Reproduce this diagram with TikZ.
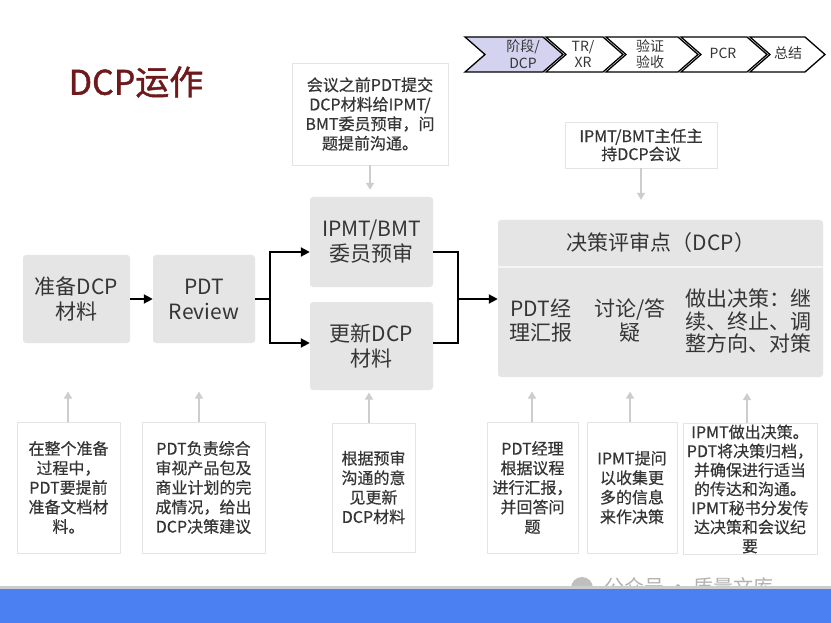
\documentclass[tikz,border=0pt]{standalone}
\usepackage{fontspec}
\setmainfont{Noto Sans CJK SC}
\newfontfamily\semibf{Noto Sans CJK SC}[FakeBold=0.5]
\newfontfamily\titlebf{Noto Sans CJK SC}[FakeBold=1.2]
\usetikzlibrary{arrows.meta,calc}
\definecolor{boxgray}{HTML}{E5E5E5}
\definecolor{txt}{HTML}{353535}
\definecolor{notebd}{HTML}{E4E4E4}
\definecolor{garr}{HTML}{CDCDCD}
\definecolor{titlered}{HTML}{6E1A1C}
\definecolor{chevfill}{HTML}{D3D3F0}
\definecolor{bandblue}{HTML}{4A80F2}
\begin{document}
\begin{tikzpicture}[x=1pt,y=-1pt,
  mainbox/.style={fill=boxgray, rounded corners=3pt, inner sep=0pt, align=center, text=txt, font=\fontsize{21}{25}\selectfont},
  innertext/.style={text=txt, inner sep=0pt, align=center, font=\fontsize{21}{23}\selectfont},
  notebox/.style={draw=notebd, fill=white, line width=0.8pt, inner sep=0pt, align=center, text=txt, font=\semibf\fontsize{16}{19.5}\selectfont},
  flow/.style={draw=black, line width=2pt, -{Triangle[length=9pt,width=9pt]}},
  garrow/.style={draw=garr, line width=1.5pt, -{Triangle[length=7pt,width=8pt]}},
  chevbox/.style={draw=black, line width=1.3pt, line join=miter},
  chevtext/.style={text=txt, align=center, font=\fontsize{14}{16.5}\selectfont, inner sep=0pt}
]
\useasboundingbox (0,0) rectangle (831,623);
\fill[white] (0,0) rectangle (831,623);

% title
\node[text=titlered, font=\titlebf\fontsize{34}{34}\selectfont, inner sep=0pt] (title) at (136,82) {DCP运作};

% chevrons
\def\ctop{37}\def\cbot{72}\def\cmid{54.5}\def\cd{20}
\foreach \L/\T/\f in {465/563/chevfill, 546/623/white, 606/698/white, 681/767/white, 750/825/white}{
  \filldraw[chevbox, fill=\f] (\L,\ctop) -- ({\T-\cd},\ctop) -- (\T,\cmid) -- ({\T-\cd},\cbot) -- (\L,\cbot) -- ({\L+\cd},\cmid) -- cycle;
}
\node[chevtext] (c1) at (523,54) {阶段/\\DCP};
\node[chevtext] (c2) at (583,54) {TR/\\XR};
\node[chevtext] (c3) at (650,54) {验证\\验收};
\node[chevtext] (c4) at (723,53) {PCR};
\node[chevtext] (c5) at (788,53) {总结};

% main flow boxes
\node[mainbox, minimum width=107pt, minimum height=88pt] (prep) at (76.5,299) {准备DCP\\材料};
\node[mainbox, minimum width=102pt, minimum height=88pt] (rev) at (204,299) {PDT\\Review};
\node[mainbox, minimum width=123pt, minimum height=90pt] (ipmt) at (371.5,242) {IPMT/BMT\\委员预审};
\node[mainbox, minimum width=123pt, minimum height=88pt] (upd) at (371.5,346) {更新DCP\\材料};
\node[mainbox, minimum width=325pt, minimum height=157pt] (dcp) at (660.5,298.5) {};
\draw[white!60!boxgray, line width=1.5pt] ([yshift=-47pt]dcp.north west) -- ([yshift=-47pt]dcp.north east);
\node[innertext] (dt) at (661,243) {决策评审点（DCP）};
\node[innertext, font=\fontsize{21}{24}\selectfont] (d1) at (541,321) {PDT经\\理汇报};
\node[innertext, font=\fontsize{21}{24}\selectfont] (d2) at (630,321) {讨论/答\\疑};
\node[innertext, font=\fontsize{21}{22.5}\selectfont] (d3) at (748,321) {做出决策：继\\续、终止、调\\整方向、对策};

% flow connectors
\coordinate (j1) at (270,299);
\coordinate (j2) at (458,299);
\draw[flow] (prep) -- (rev);
\draw[line width=2pt] (rev.east) -- (j1);
\draw[flow] (j1) |- ([yshift=-10pt]ipmt.west);
\draw[flow] (j1) |- ([yshift=3pt]upd.west);
\draw[line width=2pt] ([yshift=-10pt]ipmt.east) -| (j2);
\draw[line width=2pt] ([yshift=3pt]upd.east) -| (j2);
\draw[flow] (j2) -- (dcp.west |- j2);

% top notes
\node[notebox, minimum width=156pt, minimum height=102pt] (n1) at (370,114) {会议之前PDT提交\\DCP材料给IPMT/\\BMT委员预审，问\\题提前沟通。};
\node[notebox, minimum width=152pt, minimum height=46pt, font=\semibf\fontsize{16}{18}\selectfont] (n2) at (641,145) {IPMT/BMT主任主\\持DCP会议};
\draw[garrow, shorten >=7pt] (n1.south) -- (n1.south |- ipmt.north);
\draw[garrow, shorten >=20pt] (n2.south) -- (n2.south |- dcp.north);

% bottom notes
\node[notebox, minimum width=103pt, minimum height=131pt] (b1) at (68.5,487.5) {在整个准备\\过程中，\\PDT要提前\\准备文档材\\料。};
\node[notebox, minimum width=123pt, minimum height=131pt] (b2) at (203.5,487.5) {PDT负责综合\\审视产品包及\\商业计划的完\\成情况，给出\\DCP决策建议};
\node[notebox, minimum width=83pt, minimum height=129pt] (b3) at (373.5,487.5) {根据预审\\沟通的意\\见更新\\DCP材料};
\node[notebox, minimum width=91pt, minimum height=131pt] (b4) at (532.5,487.5) {PDT经理\\根据议程\\进行汇报，\\并回答问\\题};
\node[notebox, minimum width=90pt, minimum height=131pt] (b5) at (632,487.5) {IPMT提问\\以收集更\\多的信息\\来作决策};
\node[notebox, minimum width=134pt, minimum height=131pt, font=\semibf\fontsize{16}{19}\selectfont] (b6) at (750,489) {IPMT做出决策。\\PDT将决策归档，\\并确保进行适当\\的传达和沟通。\\IPMT秘书分发传\\达决策和会议纪\\要};

\coordinate (u1) at ([yshift=30pt]b1.north -| 68,0);
\coordinate (u2) at ([yshift=30pt]b2.north -| 199,0);
\coordinate (u3) at ([yshift=30pt]b3.north -| 369,0);
\coordinate (u4) at ([yshift=30pt]b4.north -| 532,0);
\coordinate (u5) at ([yshift=30pt]b5.north -| 630,0);
\coordinate (u6) at ([yshift=30pt]b6.north -| 747,0);
\draw[garrow] (b1.north -| u1) -- (u1);
\draw[garrow] (b2.north -| u2) -- (u2);
\draw[garrow] (b3.north -| u3) -- (u3);
\draw[garrow] (b4.north -| u4) -- (u4);
\draw[garrow] (b5.north -| u5) -- (u5);
\draw[garrow] (b6.north -| u6) -- (u6);

% watermark
\fill[gray!50] (582,588) circle (11pt);
\node[text=gray!60, font=\fontsize{20}{20}\selectfont, inner sep=0pt, anchor=west] (wm) at (604,587) {公众号 · 质量文库};

% bottom band
\fill[gray!40] (0,586) rectangle (831,589);
\fill[bandblue] (0,589) rectangle (831,623);
\end{tikzpicture}
\end{document}
